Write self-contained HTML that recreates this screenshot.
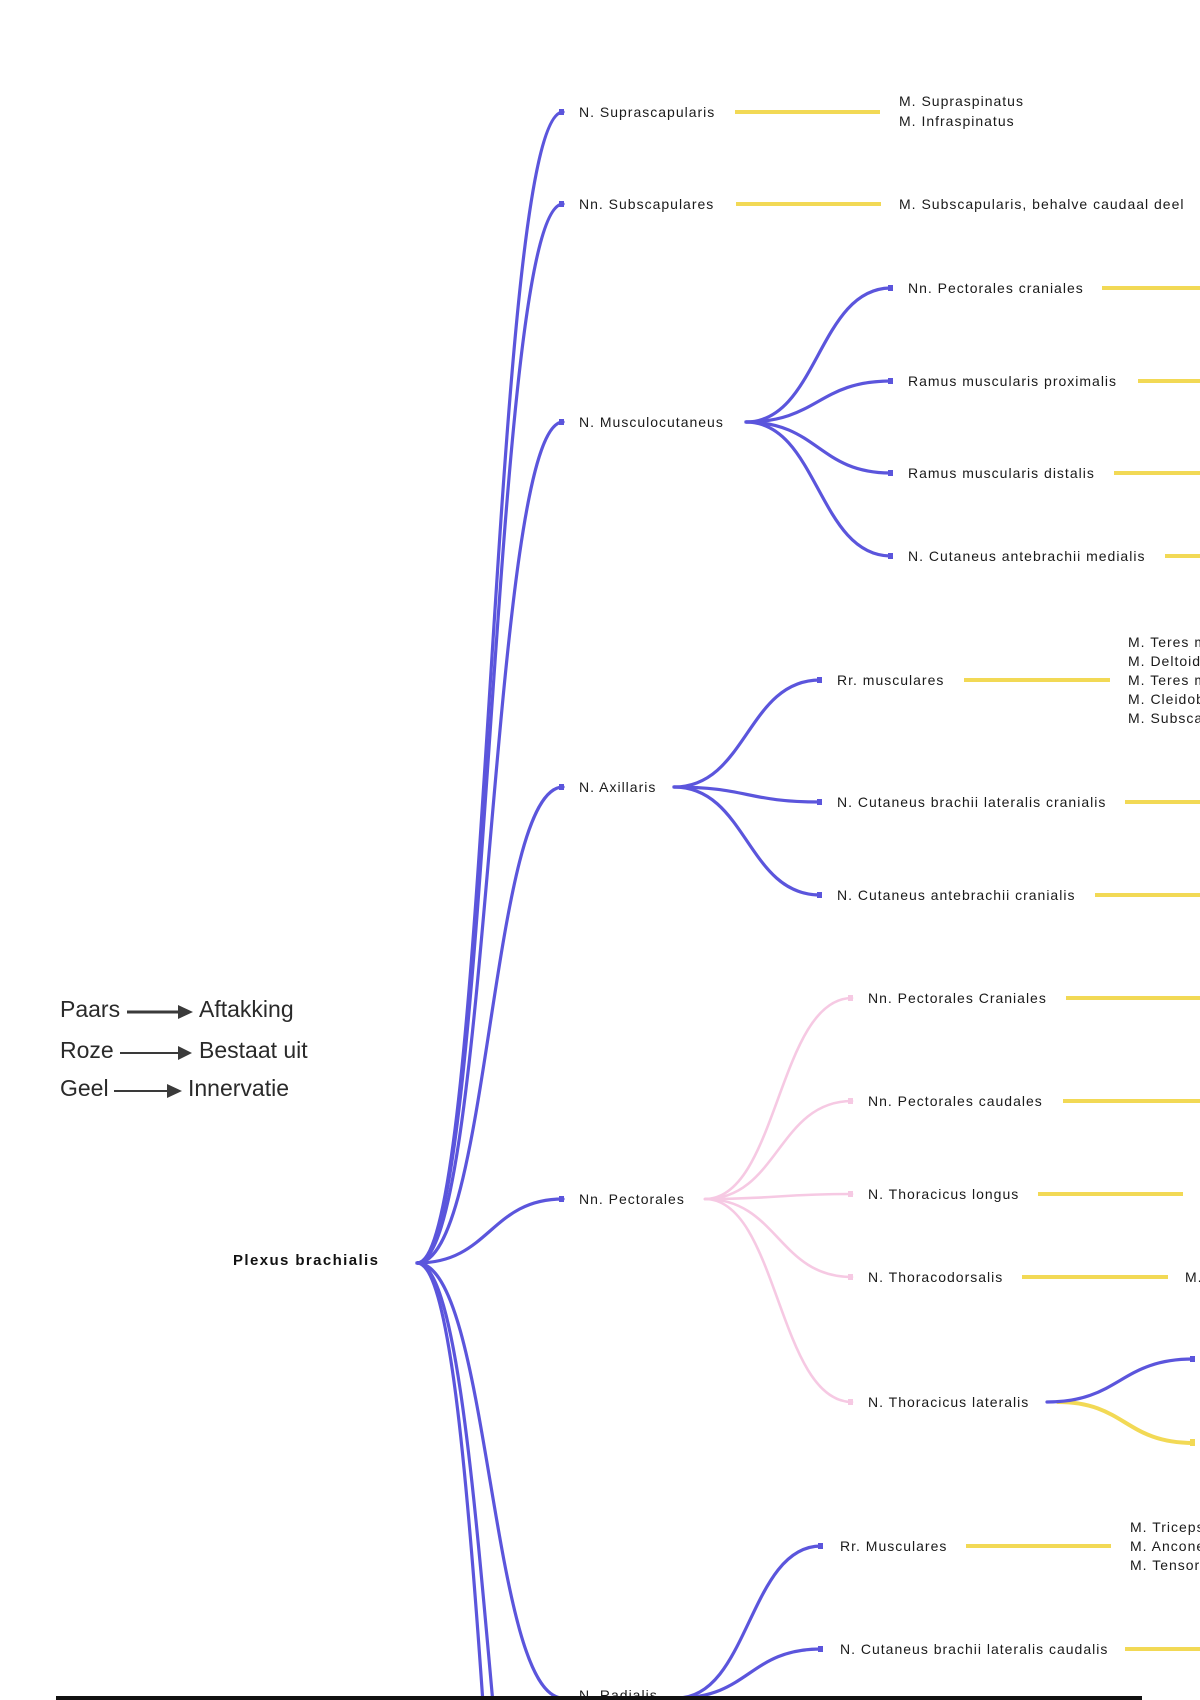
<!DOCTYPE html>
<html>
<head>
<meta charset="utf-8">
<style>
  html, body { margin:0; padding:0; background:#ffffff; }
  body { width:1200px; height:1700px; overflow:hidden; }
  svg { display:block; overflow:hidden; }
  .lbl { font-family:"Liberation Sans", Arial, sans-serif; font-size:14px; letter-spacing:1px; fill:#1a1a1a; }
  .root { font-family:"Liberation Sans", Arial, sans-serif; font-size:15px; font-weight:bold; letter-spacing:1.4px; fill:#111; }
  .leg { font-family:"Liberation Sans", Arial, sans-serif; font-size:23px; fill:#2a2a2a; }
  .pu { fill:none; stroke:#5b55dc; stroke-width:3.2; stroke-linecap:round; }
  .pk { fill:none; stroke:#f6c9e3; stroke-width:2.6; stroke-linecap:round; }
  .ye { fill:none; stroke:#f2d955; stroke-width:4; stroke-linecap:butt; }
</style>
</head>
<body>
<svg width="1200" height="1700" viewBox="0 0 1200 1700" xmlns="http://www.w3.org/2000/svg">
  <rect x="0" y="0" width="1200" height="1700" fill="#ffffff"/>

  <!-- Legend -->
  <text class="leg" x="60" y="1017">Paars</text>
  <line x1="127" y1="1012" x2="180" y2="1012" stroke="#3a3a3a" stroke-width="3"/>
  <polygon points="178,1005 193,1012 178,1019" fill="#3a3a3a"/>
  <text class="leg" x="199" y="1017">Aftakking</text>

  <text class="leg" x="60" y="1058">Roze</text>
  <line x1="120" y1="1053" x2="180" y2="1053" stroke="#3a3a3a" stroke-width="2"/>
  <polygon points="178,1046 192,1053 178,1060" fill="#3a3a3a"/>
  <text class="leg" x="199" y="1058">Bestaat uit</text>

  <text class="leg" x="60" y="1096">Geel</text>
  <line x1="114" y1="1091" x2="169" y2="1091" stroke="#3a3a3a" stroke-width="2"/>
  <polygon points="167,1084 182,1091 167,1098" fill="#3a3a3a"/>
  <text class="leg" x="188" y="1096">Innervatie</text>

  <!-- Root -->
  <text class="root" x="233" y="1265">Plexus brachialis</text>

  <!-- Level 1 purple curves -->
  <path class="pu" d="M417,1263 C490,1263 490,112 563,112"/>
  <path class="pu" d="M417,1263 C490,1263 490,204 563,204"/>
  <path class="pu" d="M417,1263 C490,1263 490,422 563,422"/>
  <path class="pu" d="M417,1263 C490,1263 490,787 563,787"/>
  <path class="pu" d="M417,1263 C490,1263 490,1199 563,1199"/>
  <path class="pu" d="M417,1263 C490,1263 490,1698 563,1698"/>
  <path class="pu" style="stroke-linecap:butt" d="M417,1263 C455.2,1263 473.4,1486.7 492.6,1699"/>
  <path class="pu" style="stroke-linecap:butt" d="M417,1263 C448.7,1263 466.6,1467.8 482.7,1699"/>
  <g fill="#5b55dc">
    <rect x="559" y="109" width="5" height="6"/>
    <rect x="559" y="201" width="5" height="6"/>
    <rect x="559" y="419" width="5" height="6"/>
    <rect x="559" y="784" width="5" height="6"/>
    <rect x="559" y="1196" width="5" height="6"/>
  </g>

  <!-- Level 1 labels -->
  <text class="lbl" x="579" y="117">N. Suprascapularis</text>
  <text class="lbl" x="579" y="209">Nn. Subscapulares</text>
  <text class="lbl" x="579" y="427">N. Musculocutaneus</text>
  <text class="lbl" x="579" y="792">N. Axillaris</text>
  <text class="lbl" x="579" y="1204">Nn. Pectorales</text>
  <text class="lbl" x="579" y="1700">N. Radialis</text>

  <!-- Suprascapularis / Subscapulares innervation -->
  <line class="ye" x1="735" y1="112" x2="880" y2="112"/>
  <text class="lbl" x="899" y="106">M. Supraspinatus</text>
  <text class="lbl" x="899" y="126">M. Infraspinatus</text>
  <line class="ye" x1="736" y1="204" x2="881" y2="204"/>
  <text class="lbl" x="899" y="209">M. Subscapularis, behalve caudaal deel</text>

  <!-- Musculocutaneus children -->
  <path class="pu" d="M746,422 C818,422 818,288 891,288"/>
  <path class="pu" d="M746,422 C818,422 818,381 891,381"/>
  <path class="pu" d="M746,422 C818,422 818,473 891,473"/>
  <path class="pu" d="M746,422 C818,422 818,556 891,556"/>
  <g fill="#5b55dc">
    <rect x="888" y="285" width="5" height="6"/>
    <rect x="888" y="378" width="5" height="6"/>
    <rect x="888" y="470" width="5" height="6"/>
    <rect x="888" y="553" width="5" height="6"/>
  </g>
  <text class="lbl" x="908" y="293">Nn. Pectorales craniales</text>
  <text class="lbl" x="908" y="386">Ramus muscularis proximalis</text>
  <text class="lbl" x="908" y="478">Ramus muscularis distalis</text>
  <text class="lbl" x="908" y="561">N. Cutaneus antebrachii medialis</text>
  <line class="ye" x1="1102" y1="288" x2="1200" y2="288"/>
  <line class="ye" x1="1138" y1="381" x2="1200" y2="381"/>
  <line class="ye" x1="1114" y1="473" x2="1200" y2="473"/>
  <line class="ye" x1="1165" y1="556" x2="1200" y2="556"/>

  <!-- Axillaris children -->
  <path class="pu" d="M674,787 C747,787 747,680 820,680"/>
  <path class="pu" d="M674,787 C747,787 747,802 820,802"/>
  <path class="pu" d="M674,787 C747,787 747,895 820,895"/>
  <g fill="#5b55dc">
    <rect x="817" y="677" width="5" height="6"/>
    <rect x="817" y="799" width="5" height="6"/>
    <rect x="817" y="892" width="5" height="6"/>
  </g>
  <text class="lbl" x="837" y="685">Rr. musculares</text>
  <text class="lbl" x="837" y="807">N. Cutaneus brachii lateralis cranialis</text>
  <text class="lbl" x="837" y="900">N. Cutaneus antebrachii cranialis</text>
  <line class="ye" x1="964" y1="680" x2="1110" y2="680"/>
  <text class="lbl" x="1128" y="647">M. Teres major</text>
  <text class="lbl" x="1128" y="666">M. Deltoideus</text>
  <text class="lbl" x="1128" y="685">M. Teres minor</text>
  <text class="lbl" x="1128" y="704">M. Cleidobrachialis</text>
  <text class="lbl" x="1128" y="723">M. Subscapularis</text>
  <line class="ye" x1="1125" y1="802" x2="1200" y2="802"/>
  <line class="ye" x1="1095" y1="895" x2="1200" y2="895"/>

  <!-- Pectorales children (pink) -->
  <path class="pk" d="M705,1199 C778,1199 778,998 852,998"/>
  <path class="pk" d="M705,1199 C778,1199 778,1101 852,1101"/>
  <path class="pk" d="M705,1199 C778,1199 778,1194 852,1194"/>
  <path class="pk" d="M705,1199 C778,1199 778,1277 852,1277"/>
  <path class="pk" d="M705,1199 C778,1199 778,1402 852,1402"/>
  <g fill="#f6c9e3">
    <rect x="848" y="995" width="5" height="6"/>
    <rect x="848" y="1098" width="5" height="6"/>
    <rect x="848" y="1191" width="5" height="6"/>
    <rect x="848" y="1274" width="5" height="6"/>
    <rect x="848" y="1399" width="5" height="6"/>
  </g>
  <text class="lbl" x="868" y="1003">Nn. Pectorales Craniales</text>
  <text class="lbl" x="868" y="1106">Nn. Pectorales caudales</text>
  <text class="lbl" x="868" y="1199">N. Thoracicus longus</text>
  <text class="lbl" x="868" y="1282">N. Thoracodorsalis</text>
  <text class="lbl" x="868" y="1407">N. Thoracicus lateralis</text>
  <line class="ye" x1="1066" y1="998" x2="1200" y2="998"/>
  <line class="ye" x1="1063" y1="1101" x2="1200" y2="1101"/>
  <line class="ye" x1="1038" y1="1194" x2="1183" y2="1194"/>
  <line class="ye" x1="1022" y1="1277" x2="1168" y2="1277"/>
  <text class="lbl" x="1185" y="1282">M. Latissimus dorsi</text>

  <!-- Thoracicus lateralis split -->
  <path class="ye" style="stroke-linecap:round" d="M1058,1402 C1125,1402 1125,1443 1193,1443"/>
  <path class="pu" d="M1047,1402 C1120,1402 1120,1359 1193,1359"/>
  <rect x="1190" y="1356" width="5" height="6" fill="#5b55dc"/>
  <rect x="1190" y="1439" width="5" height="7" fill="#f2d955"/>

  <!-- Radialis children -->
  <path class="pu" d="M677,1698 C749,1698 749,1546 821,1546"/>
  <path class="pu" d="M677,1698 C749,1698 749,1649 821,1649"/>
  <g fill="#5b55dc">
    <rect x="818" y="1543" width="5" height="6"/>
    <rect x="818" y="1646" width="5" height="6"/>
  </g>
  <text class="lbl" x="840" y="1551">Rr. Musculares</text>
  <text class="lbl" x="840" y="1654">N. Cutaneus brachii lateralis caudalis</text>
  <line class="ye" x1="966" y1="1546" x2="1111" y2="1546"/>
  <text class="lbl" x="1130" y="1532">M. Triceps brachii</text>
  <text class="lbl" x="1130" y="1551">M. Anconeus</text>
  <text class="lbl" x="1130" y="1570">M. Tensor fasciae antebrachii</text>
  <line class="ye" x1="1125" y1="1649" x2="1200" y2="1649"/>

  <!-- Bottom black line -->
  <rect x="56" y="1696" width="1086" height="4" fill="#111111"/>
</svg>
</body>
</html>
